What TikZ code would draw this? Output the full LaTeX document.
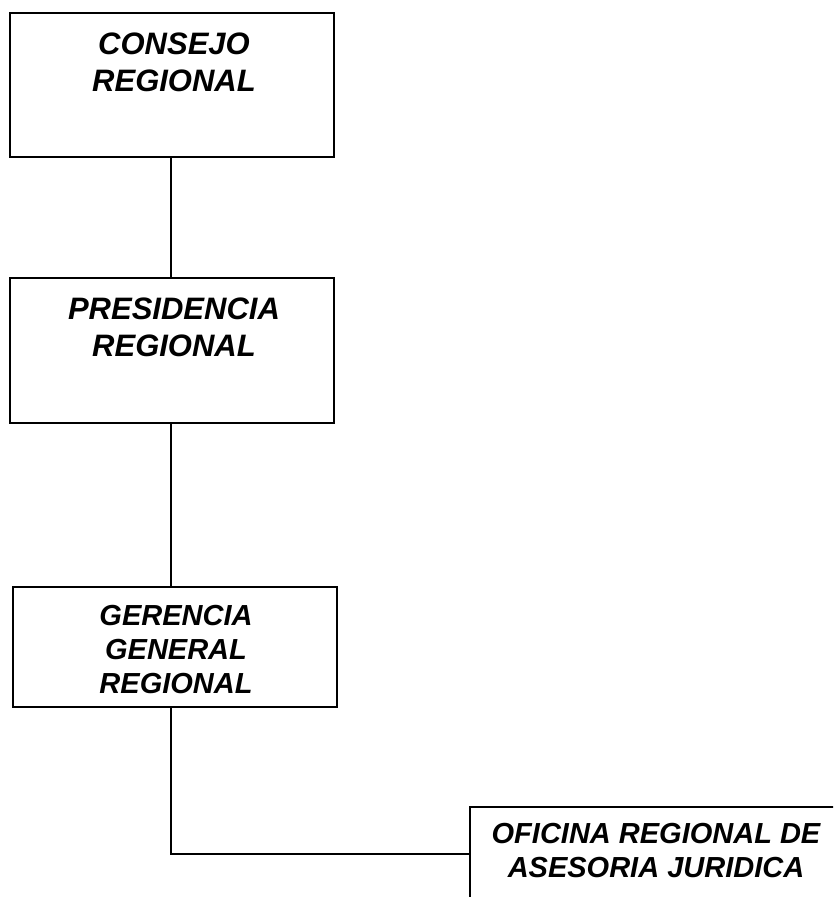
\documentclass[tikz,border=0pt]{standalone}
\usepackage{fontspec}
\setmainfont{Liberation Sans}
\begin{document}
\begin{tikzpicture}[x=1pt,y=-1pt,
  unit/.style={draw, line width=1.6pt, rectangle, inner sep=0pt},
  bigtext/.style={font=\fontsize{31}{37}\selectfont\bfseries\itshape, align=center, inner sep=0pt, anchor=north},
  smalltext/.style={font=\fontsize{29}{34}\selectfont\bfseries\itshape, align=center, inner sep=0pt, anchor=north},
  link/.style={line width=1.4pt}]
\useasboundingbox (0,0) rectangle (833,897);
\clip (0,0) rectangle (833,897);

% boxes of the organisation chart
\node[unit, minimum width=324pt, minimum height=144pt] (consejo) at (172,85) {};
\node[unit, minimum width=324pt, minimum height=145pt] (presidencia) at (172,350.5) {};
\node[unit, minimum width=324pt, minimum height=120pt] (gerencia) at (175,647) {};
\node[unit, minimum width=400pt, minimum height=120pt] (oficina) at (670,867) {};

% labels
\node[bigtext] (tconsejo) at (174,33) {CONSEJO\\REGIONAL};
\node[bigtext] (tpresidencia) at (174,298) {PRESIDENCIA\\REGIONAL};
\node[smalltext] (tgerencia) at (176,605) {GERENCIA\\GENERAL\\REGIONAL};
\node[smalltext] (toficina) at (656,823) {OFICINA REGIONAL DE\\ASESORIA JURIDICA};

% connectors
\coordinate (elbow) at (171,854);
\draw[link] (elbow |- consejo.south) -- (elbow |- presidencia.north);
\draw[link] (elbow |- presidencia.south) -- (elbow |- gerencia.north);
\draw[link] (elbow |- gerencia.south) -- (elbow) -- (elbow -| oficina.west);
\end{tikzpicture}
\end{document}
